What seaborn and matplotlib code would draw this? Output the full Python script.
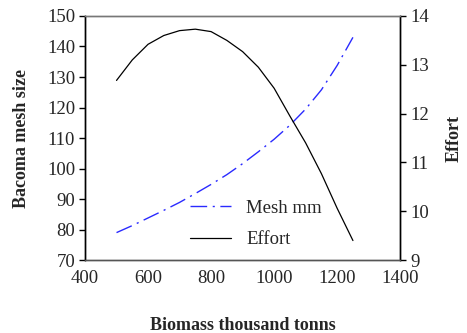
import seaborn as sns
import matplotlib.pyplot as plt
import pandas as pd
from matplotlib.lines import Line2D

# data
biomass = [500, 550, 600, 650, 700, 750, 800, 850, 900, 950, 1000, 1050, 1100, 1150, 1200, 1250]
mesh_mm = [79.0, 81.3, 83.8, 86.3, 88.9, 91.8, 94.8, 98.0, 101.6, 105.5, 109.6, 114.2, 119.5, 125.8, 133.8, 143.0]
effort = [12.68, 13.10, 13.42, 13.60, 13.70, 13.73, 13.68, 13.50, 13.27, 12.95, 12.52, 11.95, 11.40, 10.77, 10.06, 9.40]

df = pd.DataFrame({'Biomass': biomass, 'Mesh mm': mesh_mm, 'Effort': effort})

sns.set_theme(style='white')
plt.rcParams.update({
    'font.family': ['Liberation Serif', 'DejaVu Serif'],
    'xtick.labelsize': 13.5,
    'ytick.labelsize': 13.5,
    'xtick.direction': 'out',
    'ytick.direction': 'out',
})

fig = plt.figure(figsize=(4.67, 3.33), dpi=100)
ax = fig.add_axes([0.182, 0.219, 0.675, 0.733])
ax2 = ax.twinx()

mesh_ls = (0, (12, 4, 1.5, 4))
sns.lineplot(data=df, x='Biomass', y='Mesh mm', ax=ax, color='#2a2aff', lw=1.0, linestyle=mesh_ls)
sns.lineplot(data=df, x='Biomass', y='Effort', ax=ax2, color='black', lw=0.9)

ax.set_xlim(400, 1400)
ax.set_ylim(70, 150)
ax2.set_ylim(9, 14)
ax.set_xticks(range(400, 1401, 200))
ax.set_yticks(range(70, 151, 10))
ax2.set_yticks(range(9, 15))

for a in (ax, ax2):
    a.tick_params(axis='both', which='both', length=4, width=1, color='black', pad=3)
    for s in a.spines.values():
        s.set_linewidth(1.0)
    a.spines['top'].set_color('#777777')
    a.spines['bottom'].set_color('#555555')
    a.spines['left'].set_color('black')
    a.spines['right'].set_color('black')

ax.set_xlabel('Biomass thousand tonns', fontsize=13, fontweight='bold', labelpad=22)
ax.set_ylabel('Bacoma mesh size', fontsize=13, fontweight='bold', labelpad=12)
ax2.set_ylabel('Effort', fontsize=13, fontweight='bold', labelpad=12)

handles = [Line2D([], [], color='#2a2aff', lw=1.0, linestyle=mesh_ls),
           Line2D([], [], color='black', lw=0.9)]
ax.legend(handles, ['Mesh mm', 'Effort'], loc='lower left', bbox_to_anchor=(0.28, -0.02),
          frameon=False, fontsize=13.5, handlelength=2.2, labelspacing=0.75, handletextpad=0.8)

fig.savefig('out.png', dpi=100)
